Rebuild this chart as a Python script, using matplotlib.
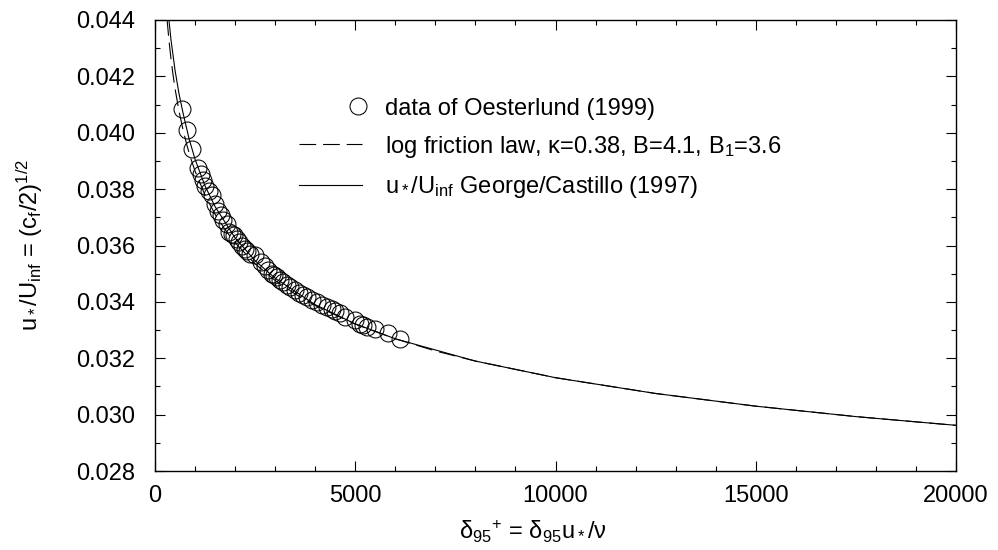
import numpy as np
import matplotlib
matplotlib.use("Agg")
import matplotlib.pyplot as plt
from matplotlib.ticker import MultipleLocator, FormatStrFormatter
from matplotlib.legend_handler import HandlerLine2D
from matplotlib.lines import Line2D

plt.rcParams['font.family'] = ['Liberation Sans', 'DejaVu Sans']
plt.rcParams['mathtext.fontset'] = 'custom'
plt.rcParams['mathtext.rm'] = 'Liberation Sans'
plt.rcParams['mathtext.it'] = 'Liberation Sans'
plt.rcParams['mathtext.bf'] = 'Liberation Sans:bold'
plt.rcParams['mathtext.default'] = 'regular'
plt.rcParams['lines.scale_dashes'] = False

# --- data: Oesterlund (1999) ---
data_delta = [667, 807, 916, 1081, 1141, 1206, 1250, 1348, 1416, 1500, 1581, 1641,
              1700, 1790, 1855, 1920, 1980, 2050, 2105, 2180, 2247, 2300, 2372, 2497,
              2650, 2750, 2830, 2914, 2980, 3039, 3120, 3204, 3300, 3371, 3496, 3600,
              3703, 3800, 3913, 4038, 4163, 4300, 4413, 4500, 4620, 4744, 4994, 5119,
              5200, 5286, 5493, 5826, 6118]
data_uU = [0.04085, 0.04010, 0.03943, 0.03876, 0.03852, 0.03831, 0.03812, 0.03795,
           0.03778, 0.03748, 0.03724, 0.03707, 0.03692, 0.03677, 0.03648, 0.03640,
           0.03636, 0.03622, 0.03612, 0.03600, 0.03589, 0.03582, 0.03571, 0.03565,
           0.03540, 0.03526, 0.03512, 0.03500, 0.03494, 0.03488, 0.03478, 0.03471,
           0.03460, 0.03453, 0.03441, 0.03430, 0.03423, 0.03416, 0.03406, 0.03400,
           0.03388, 0.03382, 0.03376, 0.03368, 0.03359, 0.03347, 0.03335, 0.03323,
           0.03318, 0.03311, 0.03305, 0.03288, 0.03270]

# --- log friction law (dashed) ---
log_delta = [300, 350, 400, 450, 500, 600, 700, 800, 900, 1000, 1250, 1500, 1750,
             2000, 2500, 3000, 3500, 4000, 5000, 6000, 7000, 8000, 10000, 12500,
             15000, 17500, 20000]
log_uU = [0.04403, 0.04326, 0.04261, 0.04206, 0.04157, 0.04076, 0.04010, 0.03954,
          0.03906, 0.03864, 0.03778, 0.03711, 0.03656, 0.03610, 0.03535, 0.03476,
          0.03428, 0.03387, 0.03321, 0.03269, 0.03226, 0.03190, 0.03131, 0.03075,
          0.03030, 0.02993, 0.02962]

# --- George/Castillo (1997) (solid) ---
gc_delta = [340, 400, 500, 600, 700, 850, 1000, 1250, 1500, 2000, 2500, 3000, 4000,
            5000, 6000, 8000, 10000, 12500, 15000, 17500, 20000]
gc_uU = [0.04411, 0.04329, 0.04222, 0.04138, 0.04070, 0.03979, 0.03906, 0.03811,
         0.03738, 0.03627, 0.03546, 0.03484, 0.03390, 0.03322, 0.03269, 0.03190,
         0.03131, 0.03075, 0.03030, 0.02993, 0.02962]

x_ticks = [0, 5000, 10000, 15000, 20000]
y_ticks = [0.028, 0.030, 0.032, 0.034, 0.036, 0.038, 0.040, 0.042, 0.044]

labels = ['data of Oesterlund (1999)',
          r'log friction law, κ=0.38, B=4.1, B$_1$=3.6',
          r'u$_*$/U$_{inf}$ George/Castillo (1997)']


class RightMarker(HandlerLine2D):
    def create_artists(self, legend, orig_handle, xdescent, ydescent, width,
                       height, fontsize, trans):
        ydata = np.array([(height - ydescent) / 2.0])
        xm = np.array([-xdescent + width - 3.0])
        line = Line2D(xm, ydata)
        self.update_prop(line, orig_handle, legend)
        line.set_transform(trans)
        return [line]


fig = plt.figure(figsize=(9.98, 5.5), dpi=100)
ax = fig.add_axes([155 / 998, 1 - 471 / 550, 801 / 998, 451 / 550])

h1, = ax.plot(data_delta, data_uU, ls='none', marker='o', ms=12.2, mfc='none',
              mec='black', mew=0.75, label=labels[0])
h2, = ax.plot(log_delta, log_uU, color='black', lw=0.8, dashes=(12, 5), label=labels[1])
h3, = ax.plot(gc_delta, gc_uU, color='black', lw=0.8, label=labels[2])

ax.set_xlim(0, 20000)
ax.set_ylim(0.028, 0.044)
ax.set_xticks(x_ticks)
ax.set_yticks(y_ticks)
ax.xaxis.set_minor_locator(MultipleLocator(1000))
ax.yaxis.set_minor_locator(MultipleLocator(0.001))
ax.yaxis.set_major_formatter(FormatStrFormatter('%.3f'))
ax.tick_params(which='both', direction='in', top=True, right=True, width=0.8)
ax.tick_params(which='major', length=7.2, labelsize=17)
ax.tick_params(which='minor', length=3.6)
ax.tick_params(axis='y', which='major', pad=14)
ax.tick_params(axis='x', which='major', pad=10)
for s in ax.spines.values():
    s.set_linewidth(1.0)

ax.set_xlabel(r'δ$_{95}$$^{+}$ = δ$_{95}$u$_*$/ν', fontsize=17)
ax.xaxis.set_label_coords(0.472, -0.105)
ax.set_ylabel(r'u$_*$/U$_{inf}$ = (c$_f$/2)$^{1/2}$', fontsize=17)
ax.yaxis.set_label_coords(-0.137, 0.5)

leg = ax.legend(handles=[h1, h2, h3], loc='upper left', bbox_to_anchor=(0.18, 0.828),
                frameon=False, fontsize=17, handlelength=2.67, handletextpad=0.95,
                labelspacing=0.6, borderpad=0, borderaxespad=0, numpoints=1,
                handler_map={h1: RightMarker()})

fig.savefig('out.png', dpi=100)
